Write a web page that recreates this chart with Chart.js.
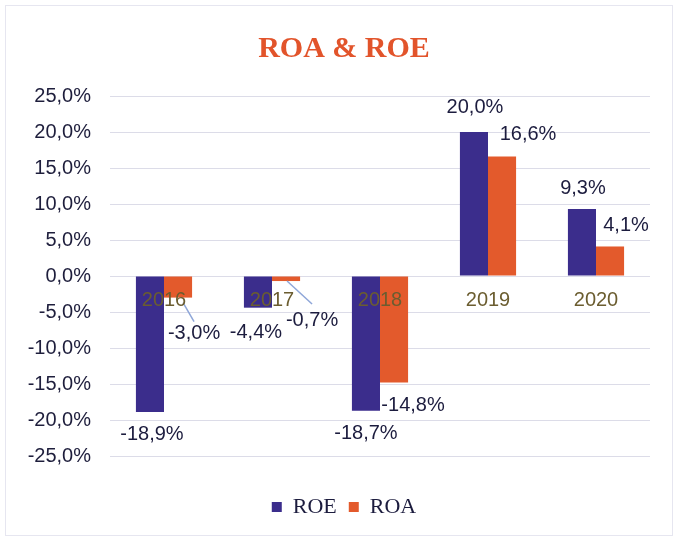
<!DOCTYPE html>
<html>
<head>
<meta charset="utf-8">
<script src="https://cdn.jsdelivr.net/npm/chart.js@4"></script>
<style>
  html, body { margin: 0; padding: 0; background: #fff; }
  #wrap { position: relative; width: 675px; height: 541px; }
  #frame { position: absolute; left: 5px; top: 5px; width: 668px; height: 531px; border: 1px solid #e6e6f0; box-sizing: border-box; pointer-events: none; }
  canvas { position: absolute; left: 0; top: 0; }
</style>
</head>
<body>
<div id="wrap">
  <canvas id="c" width="675" height="541"></canvas>
  <div id="frame"></div>
</div>
<script>
const categories = ['2016', '2017', '2018', '2019', '2020'];
const roeValues = [-18.9, -4.4, -18.7, 20.0, 9.3];
const roaValues = [-3.0, -0.7, -14.8, 16.6, 4.1];
const seriesNames = ['ROE', 'ROA'];
const yTickValues = [-25, -20, -15, -10, -5, 0, 5, 10, 15, 20, 25];

const fmt = v => v.toFixed(1).replace('.', ',') + '%';

// label placement relative to bar tip (styling, not data)
const labelOffsets = [
  [[2, 22], [-2, 25], [0, 23], [1, -25], [1, -21]],
  [[16, 36], [26, 39], [19, 23], [26, -22], [16, -21]]
];
const leaderLines = [
  [null, null, null, null, null],
  [[5, 5, 16, 24], [1, 0, 26, 23], null, null, null]
];

const labelPlugin = {
  id: 'valueLabels',
  afterDatasetsDraw(chart) {
    const ctx = chart.ctx;
    ctx.save();
    chart.data.datasets.forEach((ds, di) => {
      const meta = chart.getDatasetMeta(di);
      meta.data.forEach((el, i) => {
        const ln = leaderLines[di][i];
        if (ln) {
          ctx.strokeStyle = '#8ea6d8';
          ctx.lineWidth = 1.5;
          ctx.beginPath();
          ctx.moveTo(el.x + ln[0], el.y + ln[1]);
          ctx.lineTo(el.x + ln[2], el.y + ln[3]);
          ctx.stroke();
        }
        const off = labelOffsets[di][i];
        ctx.fillStyle = '#1c1c3e';
        ctx.font = '20px "Liberation Sans", Arial, sans-serif';
        ctx.textAlign = 'center';
        ctx.textBaseline = 'middle';
        ctx.fillText(fmt(ds.data[i]), el.x + off[0], el.y + off[1]);
      });
    });
    ctx.restore();
  }
};

new Chart(document.getElementById('c'), {
  type: 'bar',
  data: {
    labels: categories,
    datasets: [
      { label: seriesNames[0], data: roeValues, backgroundColor: '#3b2d8c', borderWidth: 0 },
      { label: seriesNames[1], data: roaValues, backgroundColor: '#e35a2c', borderWidth: 0 }
    ]
  },
  options: {
    responsive: false,
    animation: false,
    events: [],
    layout: { padding: { left: 38, right: 25, top: 0, bottom: 13 } },
    datasets: { bar: { categoryPercentage: 0.52, barPercentage: 1.0 } },
    scales: {
      y: {
        min: -25, max: 25,
        afterBuildTicks(scale) { scale.ticks = yTickValues.map(v => ({ value: v })); },
        afterFit(s) { s.width = 72; s._computeLabelArea = () => undefined; },
        ticks: {
          padding: 19,
          color: '#1e1e3c',
          font: { family: '"Liberation Sans", Arial, sans-serif', size: 20 },
          callback: v => fmt(v)
        },
        grid: { color: '#dcdce8', lineWidth: 1, drawTicks: false },
        border: { display: false }
      },
      x: {
        position: { y: 0 },
        grid: { display: false, drawTicks: false },
        border: { display: false },
        ticks: {
          z: 1,
          padding: 12,
          color: '#6b5d30',
          font: { family: '"Liberation Sans", Arial, sans-serif', size: 20 }
        }
      },
      xPad: {
        type: 'category',
        position: 'bottom',
        grid: { display: false, drawTicks: false },
        border: { display: false },
        ticks: { display: false },
        afterFit(s) { s.height = 28; }
      }
    },
    plugins: {
      title: {
        display: true,
        text: 'ROA & ROE',
        color: '#e2542b',
        font: { family: '"Liberation Serif", "Times New Roman", serif', size: 30, weight: 'bold' },
        padding: { top: 31, bottom: 29 }
      },
      legend: {
        position: 'bottom',
        labels: {
          boxWidth: 10, boxHeight: 10, padding: 12,
          color: '#1c1c3e',
          font: { family: '"Liberation Serif", "Times New Roman", serif', size: 22 }
        }
      },
      tooltip: { enabled: false }
    }
  },
  plugins: [labelPlugin]
});
</script>
</body>
</html>
